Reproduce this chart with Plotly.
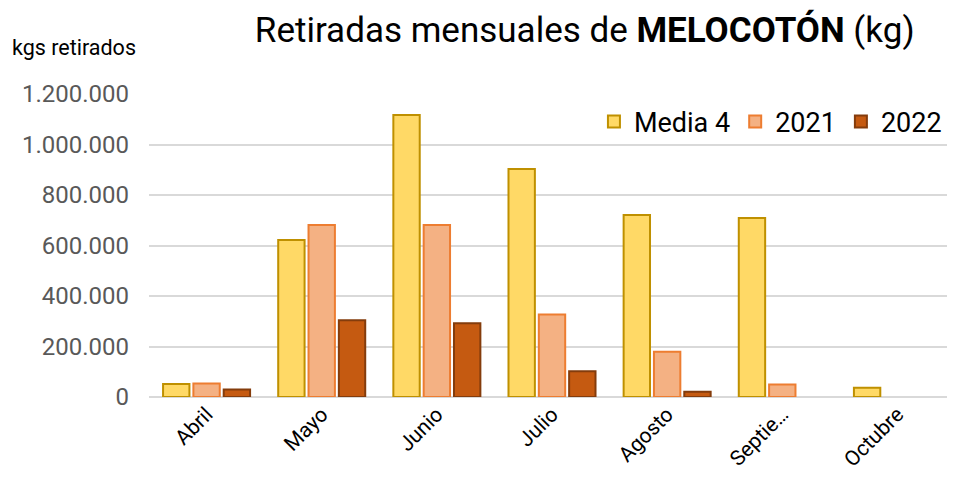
import plotly.graph_objects as go

months = ["Abril", "Mayo", "Junio", "Julio", "Agosto", "Septie…", "Octubre"]
media4 = [51000, 622000, 1117000, 903000, 721000, 709000, 37000]
y2021 = [53000, 681000, 681000, 327000, 179000, 50000, None]
y2022 = [30000, 304000, 292000, 102000, 21000, None, None]
yticks = [0, 200000, 400000, 600000, 800000, 1000000, 1200000]

FONT = "Roboto"

fig = go.Figure()
series = [
    ("Media 4", media4, "#FFD966", "#BF9000"),
    ("2021", y2021, "#F4B183", "#ED7D31"),
    ("2022", y2022, "#C55A11", "#843C0C"),
]
for name, vals, fill, line in series:
    fig.add_trace(go.Bar(
        x=months, y=vals, name=name,
        marker=dict(color=fill, line=dict(color=line, width=2)),
    ))

fig.update_layout(
    width=947, height=471,
    margin=dict(l=141, r=0, t=86, b=82, autoexpand=False),
    paper_bgcolor="white", plot_bgcolor="white",
    barmode="group", bargap=0.21, bargroupgap=0.13,
    separators=",.",
    font=dict(family=FONT, color="#595959"),
    title=dict(
        text="Retiradas mensuales de <b>MELOCOTÓN</b> (kg)",
        x=0.609, xanchor="center", y=0.953, yanchor="middle",
        font=dict(family=FONT, size=35, color="#000000"),
    ),
    legend=dict(
        orientation="h", x=0.99, xanchor="right", y=0.9076, yanchor="middle",
        font=dict(family=FONT, size=27, color="#000000"),
        bgcolor="rgba(0,0,0,0)", itemwidth=30, tracegroupgap=0,
    ),
    xaxis=dict(
        range=[-0.5, 6.5], tickangle=-45, showgrid=False, automargin=False,
        tickfont=dict(family=FONT, size=21, color="#000000"),
        showline=False, ticks="",
    ),
    yaxis=dict(
        range=[0, 1200000], tickvals=yticks, tickformat=",d", automargin=False,
        gridcolor="#D9D9D9", gridwidth=1.5,
        zeroline=True, zerolinecolor="#D9D9D9", zerolinewidth=2,
        tickfont=dict(family=FONT, size=24, color="#595959"),
        ticks="", ticklabelstandoff=19,
    ),
    annotations=[dict(
        text="kgs retirados", xref="paper", yref="paper",
        x=-0.172, xanchor="left", y=1.152, yanchor="middle",
        showarrow=False, font=dict(family=FONT, size=21.5, color="#000000"),
    )],
)

fig.write_html("out.html")
